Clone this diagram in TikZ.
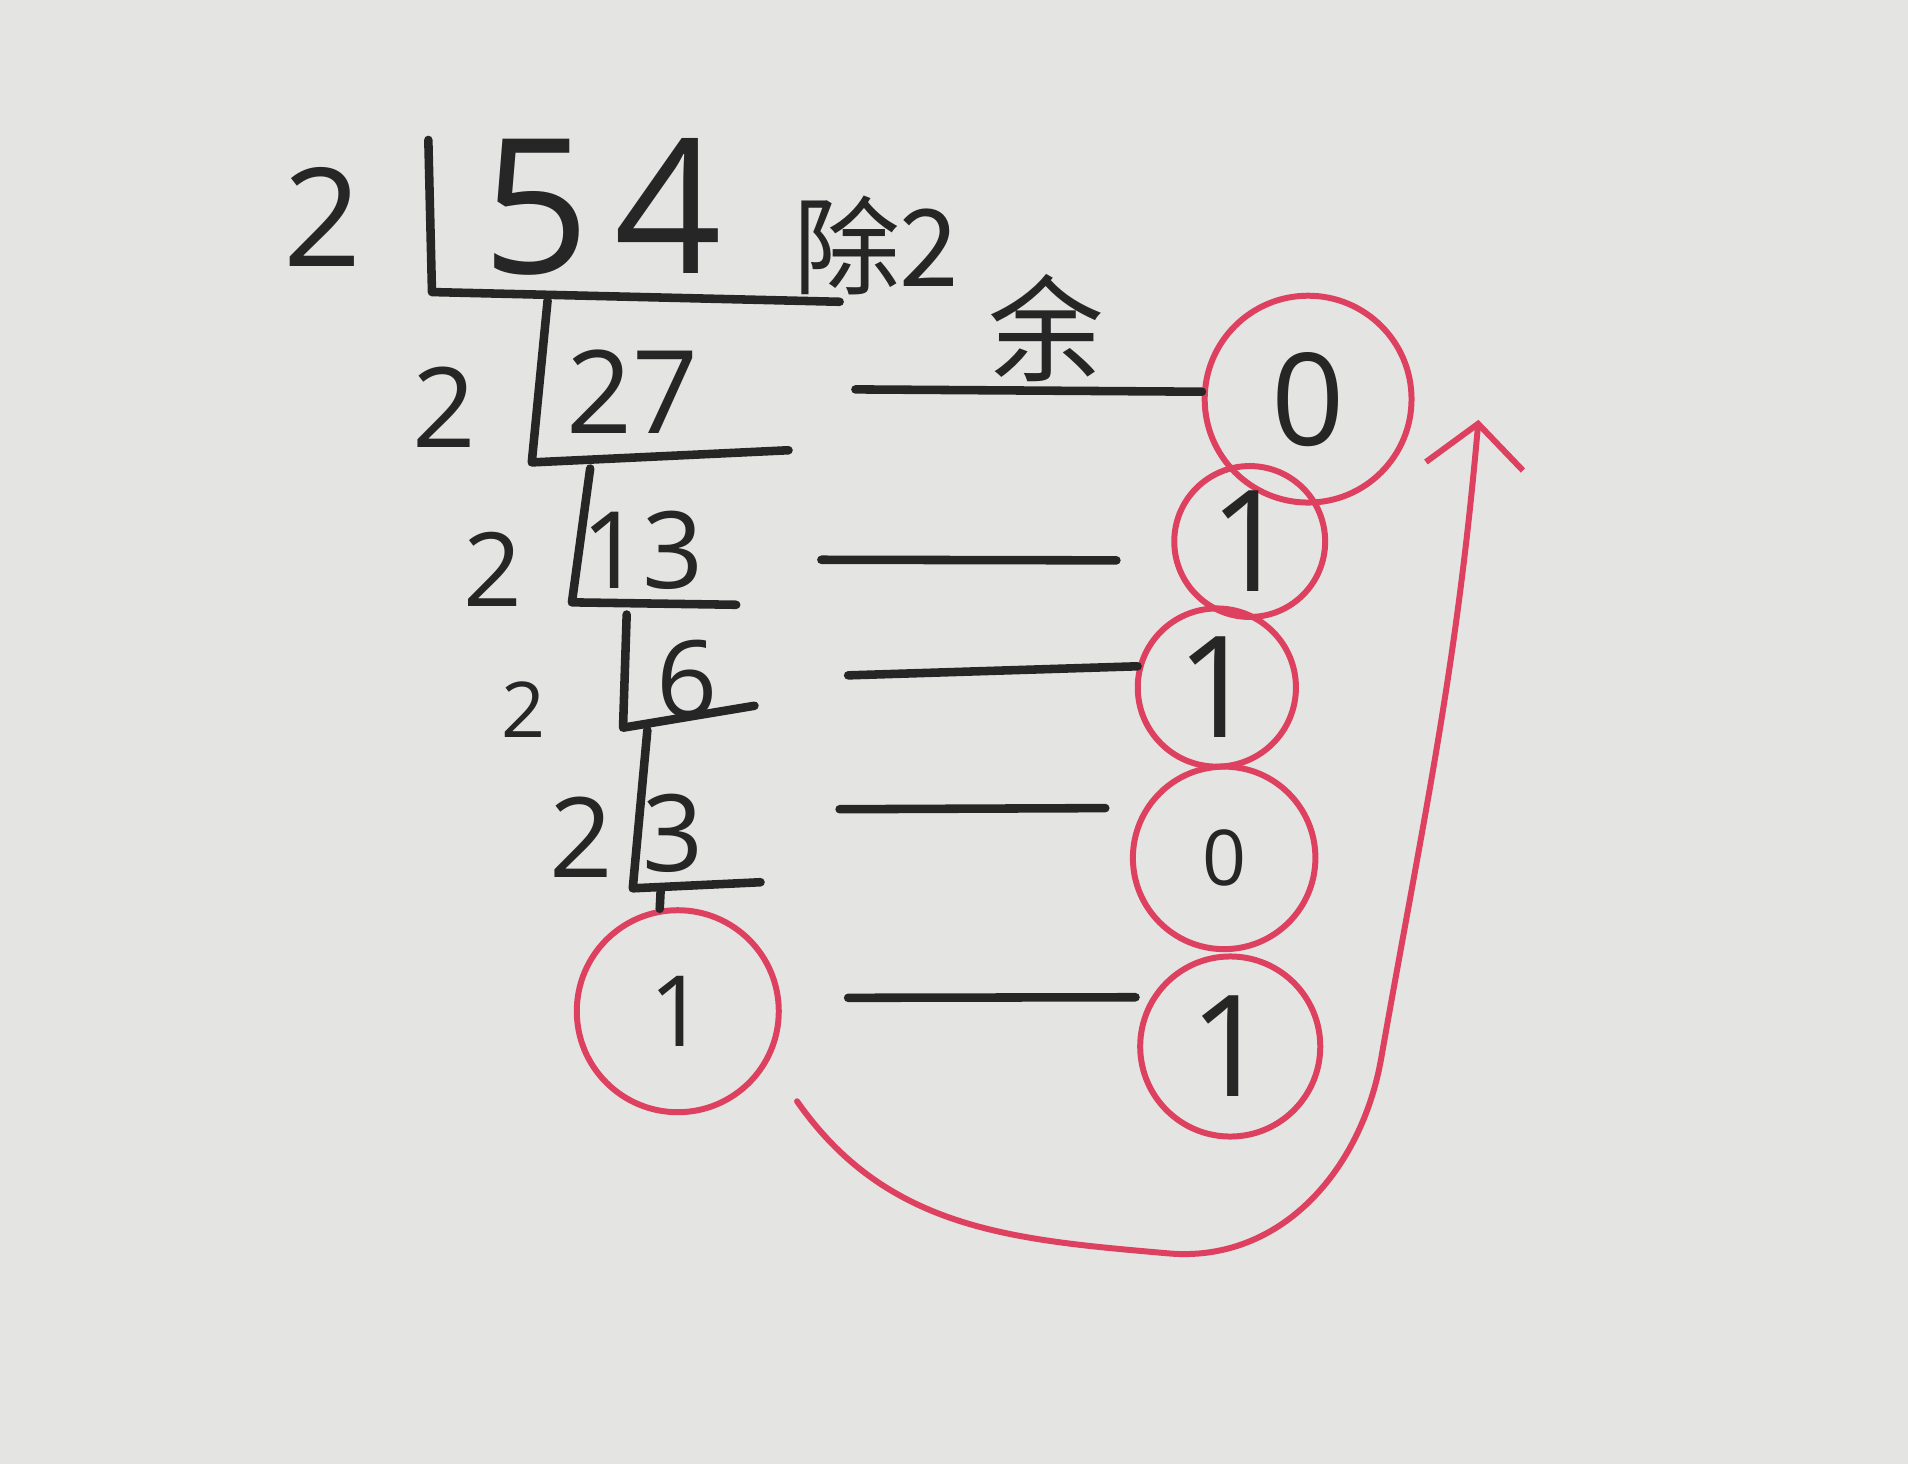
\documentclass[tikz,border=0pt]{standalone}
\usepackage{fontspec}
\setmainfont{Open Sans}
\newfontfamily\cjk{Noto Sans CJK SC}
\usetikzlibrary{arrows.meta}
\definecolor{paper}{RGB}{228,228,226}
\definecolor{ink}{RGB}{38,38,38}
\definecolor{pen}{RGB}{222,64,96}
\tikzset{
    numtext/.style={inner sep=0pt, text=ink, font=\fontsize{#1}{#1}\selectfont},
    hantext/.style={inner sep=0pt, text=ink, font=\cjk\fontsize{#1}{#1}\selectfont},
    bit/.style={draw=pen, line width=1.4pt, circle, minimum size=#1, inner sep=0pt, text=ink},
    rule/.style={ink, line width=2pt, line cap=round, line join=round},
}
\begin{document}
\begin{tikzpicture}
        \fill[paper] (0,0) rectangle (15.68,-12.03);
        \useasboundingbox (0,0) rectangle (15.68,-12.03);
        % division brackets
        \draw[rule] (3.52,-1.15) -- (3.55,-2.40) -- (6.90,-2.48);
        \draw[rule] (4.50,-2.47) -- (4.37,-3.80) -- (6.48,-3.70);
        \draw[rule] (4.85,-3.85) -- (4.70,-4.95) -- (6.05,-4.97);
        \draw[rule] (5.15,-5.05) -- (5.12,-5.98) -- (6.20,-5.80);
        \draw[rule] (5.32,-6.00) -- (5.20,-7.30) -- (6.25,-7.25);
        % divisors and quotients
        \node[numtext=32] (d0) at (2.65,-1.78) {2};
        \node[numtext=44] (n0) at (4.95,-1.70) {5\hspace{0.2cm}4};
        \node[numtext=26] (d1) at (3.65,-3.35) {2};
        \node[numtext=27] (n1) at (5.20,-3.22) {27};
        \node[numtext=24] (d2) at (4.05,-4.68) {2};
        \node[numtext=25] (n2) at (5.28,-4.52) {13};
        \node[numtext=18] (d3) at (4.30,-5.83) {2};
        \node[numtext=25] (n3) at (5.65,-5.58) {6};
        \node[numtext=26] (d4) at (4.78,-6.88) {2};
        \node[numtext=25] (n4) at (5.53,-6.85) {3};
        \node[hantext=25] (chu) at (7.20,-2.02) {除2};
        \node[hantext=27] (yu) at (8.60,-2.70) {余};
        % remainders
        \foreach \n/\x/\y/\d/\f/\b in {0/10.75/-3.28/1.70/30/0, 1/10.27/-4.45/1.24/33/1,
                2/10.00/-5.65/1.30/33/1, 3/10.06/-7.05/1.50/18/0, 4/10.11/-8.60/1.48/33/1}
        {
            \node[bit=\d cm, font=\fontsize{\f}{\f}\selectfont] (r\n) at (\x,\y) {\b};
        }
        \node[bit=1.66cm, font=\fontsize{23}{23}\selectfont] (q) at (5.57,-8.31) {1};
        \draw[rule] (5.43,-7.30) -- (q.100);
        \foreach \n/\x/\y/\a/\s in {0/7.03/-3.20/176/0, 1/6.75/-4.60/194/0.47,
                2/6.97/-5.55/165/0, 3/6.90/-6.65/148/0.32, 4/6.97/-8.20/148/0.13}
        {
            \coordinate (l\n) at (\x,\y);
            \draw[rule, shorten >=\s cm] (l\n) -- (r\n.\a);
        }
        % read upwards
        \coordinate (tail) at (6.55,-9.05);
        \coordinate (head) at (12.15,-3.45);
        \draw[pen, line width=1.4pt, line cap=round, -{Straight Barb[length=0.35cm, width=0.8cm]}]
            (tail) to[out=-55, in=175] (9.60,-10.30) to[out=-5, in=-100] (11.35,-8.70)
            to[out=80, in=-95] (head);
\end{tikzpicture}
\end{document}
